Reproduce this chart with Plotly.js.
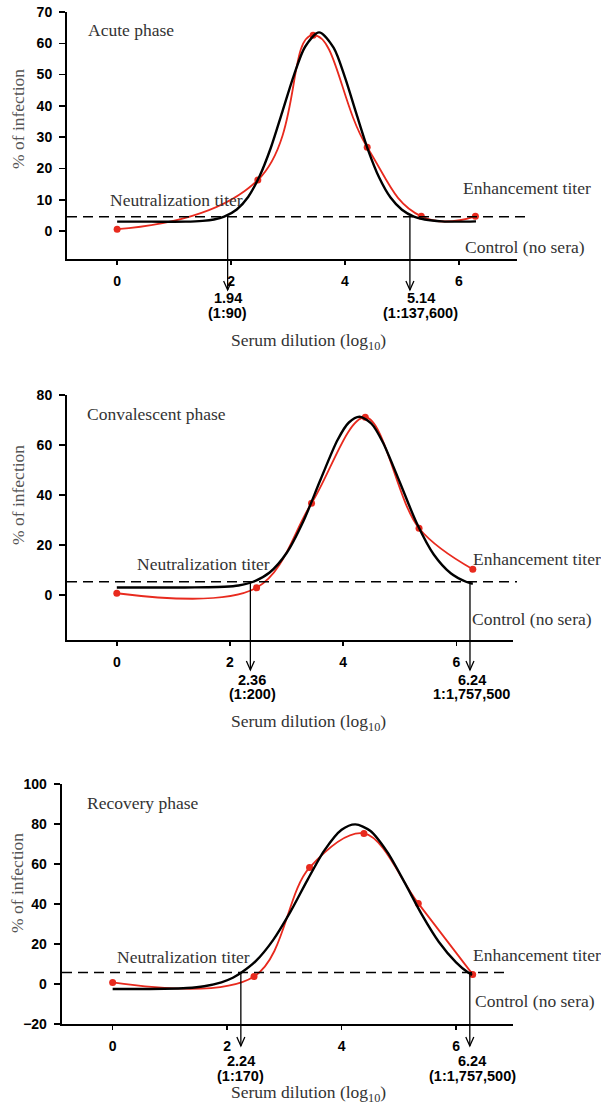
<!DOCTYPE html>
<html>
<head>
<meta charset="utf-8">
<script src="https://cdn.plot.ly/plotly-3.0.1.min.js"></script>
<style>html,body{margin:0;padding:0;background:#fff;}#chart{width:601px;height:1106px;}</style>
</head>
<body>
<div id="chart"></div>
<script>
// ---------------- data ----------------
const phaseNames = ['Acute phase', 'Convalescent phase', 'Recovery phase'];
const dilution = [0, 2.47, 3.44, 4.39, 5.34, 6.29];
const acuteInfection = [0.6, 16.3, 62.6, 26.8, 4.7, 4.7];
const convalescentInfection = [0.7, 2.9, 36.7, 71.1, 26.7, 10.3];
const recoveryInfection = [0.8, 3.7, 58.2, 75.3, 40.3, 4.8];

const acuteFitX = [0, 0.6, 1.2, 1.5, 1.7, 1.88, 2.1, 2.3, 2.5, 2.7, 2.9, 3.1, 3.3, 3.545, 3.8, 4.0, 4.2, 4.4, 4.6, 4.8, 5.0, 5.21, 5.4, 5.7, 6.0, 6.3];
const acuteFitY = [3.0, 3.0, 3.0, 3.25, 3.7, 4.6, 6.9, 10.9, 17.5, 26.7, 38.1, 49.6, 58.9, 63.5, 58.6, 49.1, 37.5, 26.2, 17.1, 10.7, 6.8, 4.6, 3.7, 3.1, 3.0, 3.1];
const convalescentFitX = [0, 0.6, 1.2, 1.6, 1.9, 2.15, 2.41, 2.7, 3.0, 3.3, 3.6, 3.9, 4.1, 4.29, 4.5, 4.7, 5.0, 5.3, 5.6, 5.9, 6.17, 6.29];
const convalescentFitY = [3.0, 3.0, 3.0, 3.1, 3.3, 3.8, 5.3, 9.0, 16.8, 29.7, 46.2, 62.0, 69.0, 71.3, 68.5, 61.1, 45.1, 28.7, 16.2, 8.7, 5.3, 4.5];
const recoveryFitX = [0, 0.5, 0.9, 1.3, 1.6, 1.9, 2.1, 2.25, 2.5, 2.8, 3.1, 3.4, 3.7, 4.0, 4.24, 4.5, 4.8, 5.1, 5.4, 5.7, 6.0, 6.21, 6.28];
const recoveryFitY = [-2.5, -2.5, -2.4, -2.0, -1.1, 0.8, 3.1, 5.7, 11.4, 21.8, 35.8, 51.8, 66.8, 77.1, 79.8, 76.6, 65.9, 50.8, 34.8, 21.0, 10.8, 5.7, 4.6];

const cutoff = [4.6, 5.3, 5.7];
const neutTiter = [1.94, 2.36, 2.24];
const neutRatio = ['(1:90)', '(1:200)', '(1:170)'];
const enhTiter = [5.14, 6.24, 6.24];
const enhRatio = ['(1:137,600)', '1:1,757,500', '(1:1,757,500)'];
const xTickVals = [0, 2, 4, 6];
const xTickText = ['0', '2', '4', '6'];

// ---------------- layout helpers ----------------
const W = 601, H = 1106;
const px = x => x / W;
const py = y => 1 - y / H;
const RED = 'rgb(232,42,30)';
const SERIF = 'Liberation Serif, Times New Roman, serif';
const SANS = 'Liberation Sans, Arial, sans-serif';

const series = [
  {x: dilution, y: acuteInfection, fx: acuteFitX, fy: acuteFitY, sm: 1.3},
  {x: dilution, y: convalescentInfection, fx: convalescentFitX, fy: convalescentFitY, sm: 1},
  {x: dilution, y: recoveryInfection, fx: recoveryFitX, fy: recoveryFitY, sm: 1}
];

const geom = [
  {xd: [67, 517], yd: [12, 259.2], xr: [-0.88, 7.02], yr: [-9, 70], dt: 10,
   phase: [86, 30], neut: [107.7, 200], enh: [460.7, 188], ctrl: [463.3, 246.7],
   ytitle: [18, 119], xtitle: [308, 342], lab: [298, 313], tip: 290, labOff: [0, 0.19], dashX: [67, 525]},
  {xd: [67, 513], yd: [395, 640], xr: [-0.88, 7.0], yr: [-18, 80], dt: 20,
   phase: [85, 414.3], neut: [135, 564], enh: [470.7, 559.3], ctrl: [470, 619.3],
   ytitle: [18, 495], xtitle: [308, 722], lab: [680, 694], tip: 670, labOff: [0.03, 0.03], dashX: [67, 517]},
  {xd: [61.7, 513.3], yd: [784, 1024], xr: [-0.89, 7.0], yr: [-20, 100], dt: 20,
   phase: [85, 803.3], neut: [115, 956.7], enh: [470.7, 955], ctrl: [472.7, 1000.7],
   ytitle: [17, 883], xtitle: [308, 1093], lab: [1061, 1076], tip: 1046, labOff: [0, 0.04], dashX: [62, 508]}
];

const traces = [];
const layout = {
  width: W, height: H,
  margin: {l: 0, r: 0, t: 0, b: 0},
  paper_bgcolor: '#fff', plot_bgcolor: '#fff',
  showlegend: false,
  shapes: [], annotations: []
};

geom.forEach((g, i) => {
  const n = i === 0 ? '' : String(i + 1);
  const xa = 'x' + n, ya = 'y' + n;
  const s = series[i];
  traces.push({
    x: s.x, y: s.y, xaxis: xa, yaxis: ya, type: 'scatter', mode: 'lines+markers',
    line: {color: RED, width: 1.8, shape: 'spline', smoothing: s.sm},
    marker: {color: RED, size: 7}, cliponaxis: false, hoverinfo: 'skip'
  });
  traces.push({
    x: s.fx, y: s.fy, xaxis: xa, yaxis: ya, type: 'scatter', mode: 'lines',
    line: {color: '#000', width: 2.4, shape: 'spline', smoothing: 0.8},
    cliponaxis: false, hoverinfo: 'skip'
  });

  layout['xaxis' + n] = {
    domain: [px(g.xd[0]), px(g.xd[1])], range: g.xr, anchor: ya,
    showgrid: false, zeroline: false, showline: true, linecolor: '#000', linewidth: 2,
    ticks: 'outside', ticklen: 4, tickwidth: 1.5, tickcolor: '#000',
    tickvals: xTickVals, ticktext: xTickText, ticklabelstandoff: 4,
    tickfont: {family: SANS, size: 14, color: '#000', weight: 'bold'}, fixedrange: true
  };
  layout['yaxis' + n] = {
    domain: [py(g.yd[1]), py(g.yd[0])], range: g.yr, anchor: xa,
    showgrid: false, zeroline: false, showline: true, linecolor: '#000', linewidth: 2,
    ticks: 'outside', ticklen: 6, tickwidth: 1.5, tickcolor: '#000',
    dtick: g.dt, tick0: 0, ticklabelstandoff: 4,
    tickfont: {family: SANS, size: 14, color: '#000', weight: 'bold'}, fixedrange: true
  };

  // cutoff dashed line
  layout.shapes.push({
    type: 'line', xref: 'paper', yref: ya,
    x0: px(g.dashX[0]), x1: px(g.dashX[1]), y0: cutoff[i], y1: cutoff[i],
    line: {color: '#000', width: 1.5, dash: '10px,6px'}
  });

  // titer arrows: vertical line from the cutoff line down, with open arrow head
  const cutPix = g.yd[0] + (g.yr[1] - cutoff[i]) / (g.yr[1] - g.yr[0]) * (g.yd[1] - g.yd[0]);
  const unitPx = (g.xd[1] - g.xd[0]) / (g.xr[1] - g.xr[0]);
  const hw = 4 / unitPx;
  [neutTiter[i], enhTiter[i]].forEach(t => {
    layout.shapes.push({
      type: 'line', xref: xa, yref: 'paper', x0: t, x1: t, y0: py(cutPix), y1: py(g.tip),
      line: {color: '#000', width: 1.3}
    });
    layout.shapes.push({
      type: 'path', xref: xa, yref: 'paper',
      path: 'M' + (t - hw) + ',' + py(g.tip - 9) + ' L' + t + ',' + py(g.tip) + ' L' + (t + hw) + ',' + py(g.tip - 9),
      line: {color: '#000', width: 1.3}
    });
  });
  // titer labels
  [[neutTiter[i], neutRatio[i], g.labOff[0]], [enhTiter[i], enhRatio[i], g.labOff[1]]].forEach(([t, r, off]) => {
    [t.toFixed(2), r].forEach((line, k) => {
      layout.annotations.push({
        xref: xa, yref: 'paper', x: t + off, y: py(g.lab[k]), showarrow: false,
        xanchor: 'center', yanchor: 'middle', text: line,
        font: {family: SANS, size: 14.5, color: '#000', weight: 'bold'}
      });
    });
  });

  const txt = (pos, text, extra) => Object.assign({
    xref: 'paper', yref: 'paper', x: px(pos[0]), y: py(pos[1]), showarrow: false,
    xanchor: 'left', yanchor: 'middle', text: text,
    font: {family: SERIF, size: 17.5, color: '#333'}
  }, extra || {});
  layout.annotations.push(txt(g.phase, phaseNames[i]));
  layout.annotations.push(txt(g.neut, 'Neutralization titer'));
  layout.annotations.push(txt(g.enh, 'Enhancement titer'));
  layout.annotations.push(txt(g.ctrl, 'Control (no sera)'));
  layout.annotations.push(txt(g.ytitle, '% of infection', {xanchor: 'center', textangle: -90, font: {family: SERIF, size: 17.5, color: '#555'}}));
  layout.annotations.push(txt(g.xtitle, 'Serum dilution (log<sub>10</sub>)', {xanchor: 'center'}));
});

Plotly.newPlot('chart', traces, layout, {staticPlot: true, displayModeBar: false});
</script>
</body>
</html>
